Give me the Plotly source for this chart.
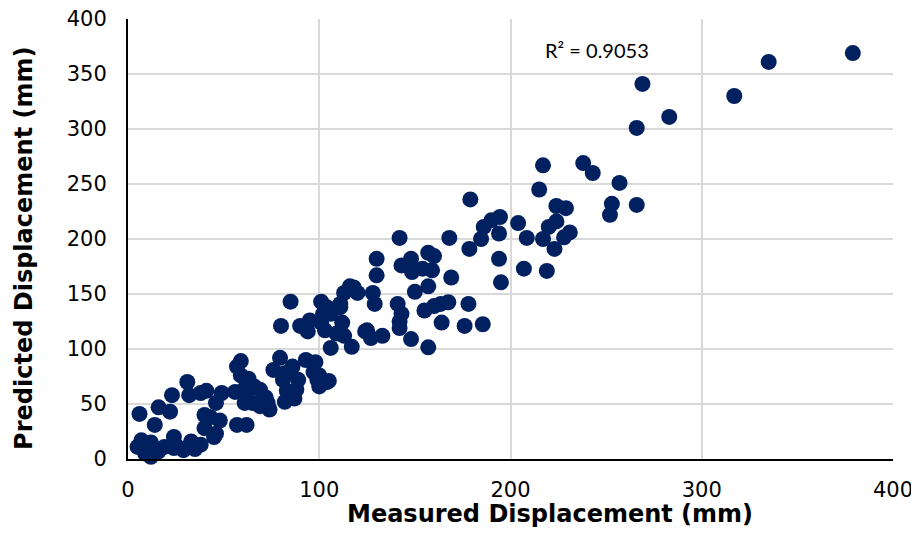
import plotly.graph_objects as go

# Measured vs predicted displacement (mm)
measured = [
    6, 16, 22, 14, 23, 31, 32, 38, 41, 49, 46, 56, 61,
    40, 43, 40, 48, 46, 45, 57, 62,
    24, 26, 33, 38, 35, 29,
    7, 5, 9, 12, 16, 19, 24, 10, 12,
    59, 57, 59, 63, 66, 63, 69, 72, 73, 74, 69, 65, 61,
    79.5, 76, 82, 86, 93, 98, 81, 83, 88, 89, 97, 100, 104, 82, 87, 100, 105, 99,
    85, 80, 90, 95, 94, 101, 103, 112, 113, 106, 117, 101, 104, 102, 106, 111,
    111, 116, 118, 120, 113, 109, 124, 125, 127, 133, 128, 129,
    130, 130, 142, 143, 148, 148.5, 154, 159, 157, 160, 169, 157, 150, 141, 143,
    142, 142, 148, 157, 155, 160, 163.5, 167.5, 164, 178, 176, 185.5, 168, 178.5,
    184.6, 186, 190, 194.5, 194, 194, 195, 204, 208.5, 207, 179,
    217, 238, 243, 257, 215, 224, 229, 253, 252, 266, 220, 224, 231, 228, 217,
    223, 219, 379, 335, 317, 269, 283, 266,
]
predicted = [
    41, 47, 43, 31, 58, 70, 58, 60, 62, 60, 51, 61, 64,
    40, 38, 28, 35, 23, 20, 31, 31,
    20, 11, 16, 13, 9, 8,
    17, 11, 5, 2, 7, 11, 10, 8, 15,
    89, 84, 76, 73, 66, 63, 63, 56, 51, 45, 48, 51, 51,
    92, 81, 78, 84, 90, 88, 72, 62, 63, 72, 79, 76, 70, 52, 55, 66, 71, 72,
    143, 121, 121, 126, 116, 124, 117, 124, 112, 101, 102, 143, 138, 132, 132, 138,
    141, 157, 156, 151, 151, 114, 116, 117, 110, 112, 151, 141,
    182, 167, 201, 176, 182, 170, 173, 171.5, 187.5, 184.5, 165, 157, 152, 141, 132,
    125, 119, 109, 101.5, 135, 139, 141, 142.5, 124, 141, 121, 122.5, 201, 191,
    200, 211, 217, 220, 205, 182, 160.6, 214.5, 201, 173, 236,
    267, 269, 260, 251, 245, 230, 228, 232, 222, 231, 211, 216, 206, 201.5, 200,
    191, 171, 369, 361, 330, 341, 311, 301,
]
r2_label = "R² = 0.9053"
x_title = "<b>Measured Displacement (mm)</b>"
y_title = "<b>Predicted Displacement (mm)</b>"

x_ticks = [0, 100, 200, 300, 400]
y_ticks = [0, 50, 100, 150, 200, 250, 300, 350, 400]

fig = go.Figure()
fig.add_trace(go.Scatter(
    x=measured, y=predicted, mode="markers",
    marker=dict(size=16, color="#002060", line=dict(width=0)),
    cliponaxis=False, showlegend=False,
))

fig.add_annotation(x=245, y=372, text=r2_label, showarrow=False,
                   font=dict(family="Lato, Open Sans, sans-serif", size=20, color="#000000"))

title_font = dict(family="DejaVu Sans, sans-serif", size=24, color="#000000")
fig.add_annotation(x=0.551, y=-0.126, xref="paper", yref="paper", text=x_title,
                   showarrow=False, font=title_font, xanchor="center", yanchor="middle")
fig.add_annotation(x=-0.137, y=0.478, xref="paper", yref="paper", text=y_title,
                   showarrow=False, font=title_font, textangle=-90,
                   xanchor="center", yanchor="middle")

axis_font = dict(family="DejaVu Sans, sans-serif", size=21, color="#000000")

fig.update_xaxes(
    range=[0, 400], tickvals=x_ticks, ticktext=[str(v) for v in x_ticks],
    showgrid=True, gridcolor="#d9d9d9", gridwidth=2,
    showline=True, linecolor="#000000", linewidth=2, zeroline=False,
    tickfont=axis_font, ticklabelstandoff=11, ticklabeloverflow="allow",
    automargin=False,
)
fig.update_yaxes(
    range=[0, 400], tickvals=y_ticks, ticktext=[str(v) for v in y_ticks],
    showgrid=True, gridcolor="#d9d9d9", gridwidth=2,
    showline=True, linecolor="#000000", linewidth=2, zeroline=False,
    tickfont=axis_font, ticklabelstandoff=15, ticklabeloverflow="allow",
    automargin=False,
)
fig.update_layout(
    width=911, height=528,
    margin=dict(l=120, r=26, t=11, b=77, autoexpand=False),
    paper_bgcolor="#ffffff", plot_bgcolor="#ffffff",
)
fig.write_html("out.html")
